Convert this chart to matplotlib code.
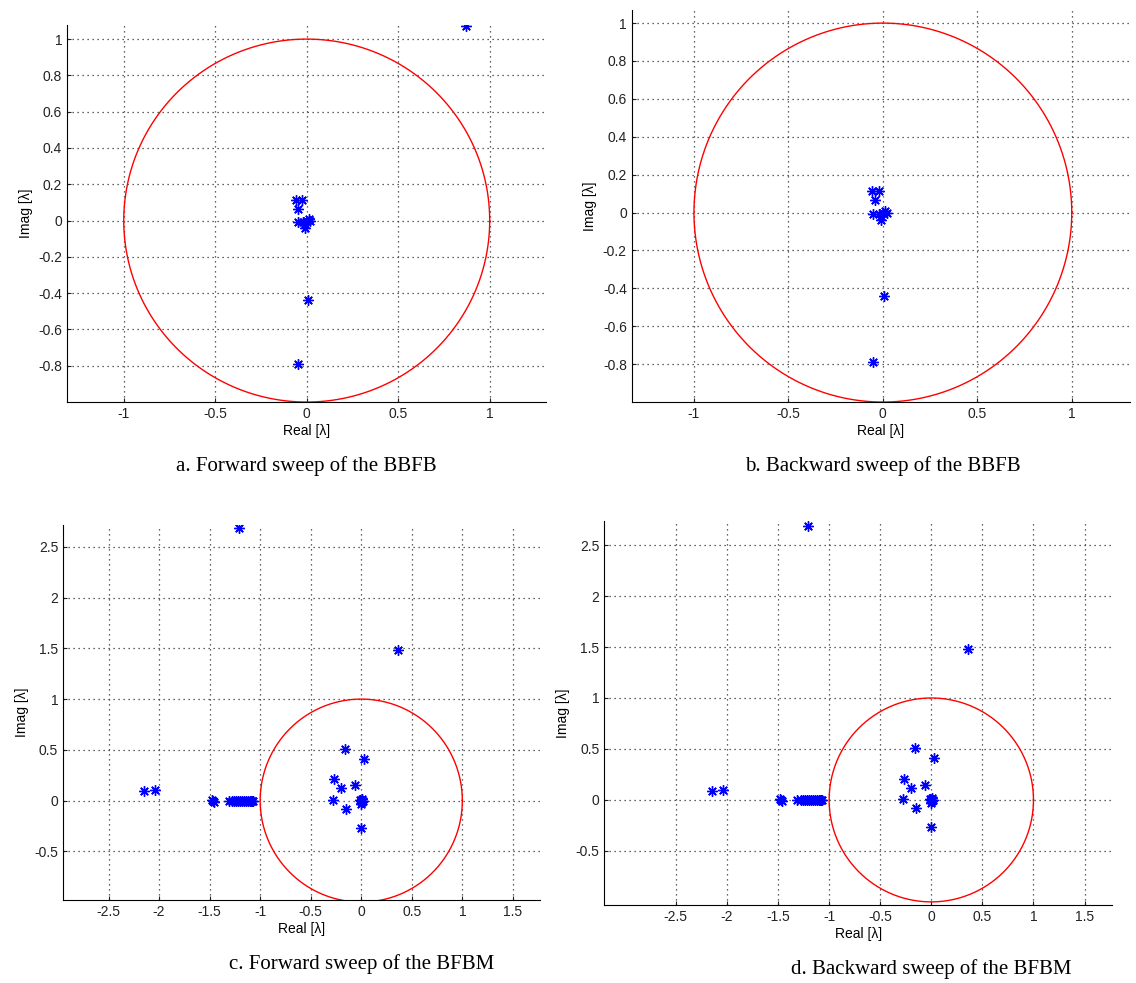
import numpy as np
import matplotlib
matplotlib.use("Agg")
import matplotlib.pyplot as plt

# Eigenvalues (real, imag)
a_re = [0.87, -0.06, -0.025, -0.05, -0.05, 0.0, 0.01, -0.01, -0.01, 0.02, -0.02, 0.005, -0.05]
a_im = [1.07, 0.115, 0.115, 0.065, -0.01, 0.0, 0.01, -0.02, -0.04, 0.0, -0.01, -0.44, -0.79]

b_re = [-0.06, -0.02, -0.04, -0.05, 0.0, 0.01, -0.01, -0.01, 0.02, -0.02, 0.005, -0.05]
b_im = [0.115, 0.115, 0.065, -0.01, 0.0, 0.01, -0.02, -0.04, 0.0, -0.01, -0.44, -0.79]

c_re = [-1.21, 0.36, -2.15, -2.04, -1.47, -1.48, -1.46,
        -1.31, -1.28, -1.26, -1.24, -1.22, -1.20, -1.18, -1.16, -1.14, -1.12, -1.10, -1.09, -1.08, -1.07,
        -0.16, 0.03, -0.27, -0.20, -0.06, -0.28, -0.15,
        0.0, 0.01, 0.02, -0.01, 0.0, 0.01, 0.0]
c_im = [2.69, 1.48, 0.09, 0.10, 0.0, 0.01, -0.01,
        0, 0, 0, 0, 0, 0, 0, 0, 0, 0, 0, 0, 0, 0,
        0.51, 0.41, 0.21, 0.12, 0.15, 0.01, -0.08,
        0.0, -0.01, 0.0, 0.01, -0.03, 0.02, -0.27]

d_re = c_re
d_im = c_im

captions = ["a. Forward sweep of the BBFB", "b. Backward sweep of the BBFB",
            "c. Forward sweep of the BFBM", "d. Backward sweep of the BFBM"]

plt.rcParams['font.family'] = ['Liberation Sans', 'DejaVu Sans']

fig = plt.figure(figsize=(11.36, 9.83), dpi=100)

panels = [
    ([0.059, 0.591, 0.422, 0.384], a_re, a_im, (-1.31, 1.31), (-1.0, 1.08),
     [-1, -0.5, 0, 0.5, 1], [-0.8, -0.6, -0.4, -0.2, 0, 0.2, 0.4, 0.6, 0.8, 1]),
    ([0.556, 0.591, 0.439, 0.399], b_re, b_im, (-1.33, 1.31), (-1.0, 1.07),
     [-1, -0.5, 0, 0.5, 1], [-0.8, -0.6, -0.4, -0.2, 0, 0.2, 0.4, 0.6, 0.8, 1]),
    ([0.0555, 0.0844, 0.42, 0.382], c_re, c_im, (-2.95, 1.77), (-0.98, 2.72),
     [-2.5, -2, -1.5, -1, -0.5, 0, 0.5, 1, 1.5], [-0.5, 0, 0.5, 1, 1.5, 2, 2.5]),
    ([0.532, 0.0794, 0.447, 0.391], d_re, d_im, (-3.2, 1.77), (-1.03, 2.74),
     [-2.5, -2, -1.5, -1, -0.5, 0, 0.5, 1, 1.5], [-0.5, 0, 0.5, 1, 1.5, 2, 2.5]),
]

theta = np.linspace(0, 2 * np.pi, 400)

for (pos, re, im, xl, yl, xt, yt), cap in zip(panels, captions):
    ax = fig.add_axes(pos)
    ax.plot(np.cos(theta), np.sin(theta), color='red', lw=1.0)
    # MATLAB-style asterisk marker
    ax.plot(re, im, linestyle='none', marker=(8, 2, 0), color='blue',
            markersize=7.5, markeredgewidth=1.0)
    ax.set_xlim(xl)
    ax.set_ylim(yl)
    ax.set_xticks(xt)
    ax.set_yticks(yt)
    ax.set_xticklabels([f"{v:g}" for v in xt])
    ax.set_yticklabels([f"{v:g}" for v in yt])
    ax.grid(True, linestyle=(0, (1, 3)), color='#333333', lw=0.9)
    ax.spines['top'].set_visible(False)
    ax.spines['right'].set_visible(False)
    ax.tick_params(direction='in', length=3, labelsize=10, colors='#222222')
    ax.set_xlabel('Real [λ]', fontsize=10, labelpad=2)
    ax.set_ylabel('Imag [λ]', fontsize=10, labelpad=4)
    cx = pos[0] + pos[2] * (0 - xl[0]) / (xl[1] - xl[0])
    fig.text(cx, pos[1] - 0.065, cap, ha='center', va='center',
             fontsize=15, family=['Liberation Serif', 'DejaVu Serif'])

fig.savefig('out.png', dpi=100, facecolor='white')
